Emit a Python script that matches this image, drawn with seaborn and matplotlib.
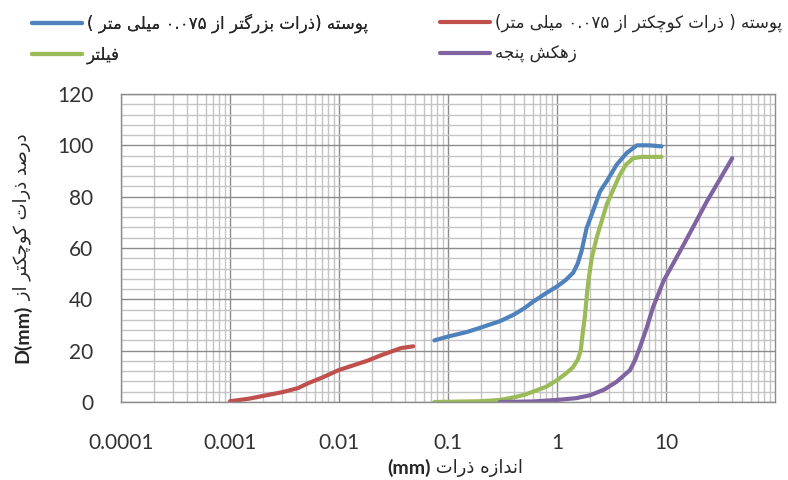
import re
import matplotlib
matplotlib.use("Agg")
import matplotlib.pyplot as plt
from matplotlib.lines import Line2D
from matplotlib.ticker import FixedLocator, MultipleLocator, LogLocator, NullFormatter
import pandas as pd
import seaborn as sns

# grain size curves (size in mm, percent passing)
shell_fine_x = [0.001, 0.0015, 0.0022, 0.003, 0.0042, 0.0052, 0.007, 0.0099,
                0.014, 0.018, 0.025, 0.037, 0.048]
shell_fine_y = [0.3, 1.3, 2.7, 3.8, 5.4, 7.3, 9.5, 12.4, 14.5, 16, 18.4, 21, 21.7]
shell_coarse_x = [0.075, 0.1, 0.15, 0.2, 0.3, 0.4, 0.5, 0.6, 0.8, 1.0, 1.2, 1.41,
                  1.55, 1.68, 1.87, 2.08, 2.48, 2.86, 3.53, 4.36, 5.4, 7.0, 9.1]
shell_coarse_y = [24, 25.5, 27.3, 29, 31.5, 34, 36.5, 39, 42.5, 45, 47.5, 50.4,
                  54, 58.8, 67.8, 73, 82, 86, 92.5, 97, 100, 100, 99.6]
filter_x = [0.075, 0.2, 0.3, 0.4, 0.5, 0.6, 0.8, 1.0, 1.2, 1.4, 1.55, 1.65,
            1.72, 1.81, 1.87, 1.94, 2.08, 2.31, 2.86, 3.3, 3.78, 4.3, 5.0, 6.0, 9.1]
filter_y = [0, 0.3, 0.8, 1.8, 2.8, 4, 6, 8.5, 11, 13.5, 16.5, 20,
            26.7, 34, 40.8, 47, 56, 64, 77, 83, 88.6, 92.5, 95, 95.5, 95.5]
toe_x = [0.3, 0.6, 1.0, 1.5, 2.0, 2.7, 3.53, 4.67, 5.2, 5.77, 6.66, 7.6, 9.5,
         14.6, 23.6, 40.5]
toe_y = [0, 0.2, 0.8, 1.5, 2.6, 4.8, 7.9, 12.4, 16.3, 21.4, 29, 36.9, 47.2,
         61.5, 78, 95]

name_fine = "پوسته ( ذرات کوچکتر از ۰.۰۷۵ میلی متر)"
name_coarse = "پوسته (ذرات بزرگتر از ۰.۰۷۵ میلی متر )"
name_filter = "فیلتر"
name_toe = "زهکش پنجه"

x_ticks = [0.0001, 0.001, 0.01, 0.1, 1, 10]
x_tick_labels = ["0.0001", "0.001", "0.01", "0.1", "1", "10"]
y_ticks = [0, 20, 40, 60, 80, 100, 120]

xlabel_fa = "اندازه ذرات"
xlabel_unit = "(mm)"
ylabel_fa = "درصد ذرات کوچکتر از"
ylabel_unit = "D(mm)"

colors = {name_fine: "#C0504D", name_coarse: "#4F81BD",
          name_filter: "#9BBB59", name_toe: "#8064A2"}

# matplotlib does no Arabic shaping, so join letters by hand
FORMS = {
    "ا": ("\uFE8D", "\uFE8E", None, None),
    "ب": ("\uFE8F", "\uFE90", "\uFE91", "\uFE92"),
    "ت": ("\uFE95", "\uFE96", "\uFE97", "\uFE98"),
    "ج": ("\uFE9D", "\uFE9E", "\uFE9F", "\uFEA0"),
    "د": ("\uFEA9", "\uFEAA", None, None),
    "ذ": ("\uFEAB", "\uFEAC", None, None),
    "ر": ("\uFEAD", "\uFEAE", None, None),
    "ز": ("\uFEAF", "\uFEB0", None, None),
    "س": ("\uFEB1", "\uFEB2", "\uFEB3", "\uFEB4"),
    "ش": ("\uFEB5", "\uFEB6", "\uFEB7", "\uFEB8"),
    "ص": ("\uFEB9", "\uFEBA", "\uFEBB", "\uFEBC"),
    "ف": ("\uFED1", "\uFED2", "\uFED3", "\uFED4"),
    "ل": ("\uFEDD", "\uFEDE", "\uFEDF", "\uFEE0"),
    "م": ("\uFEE1", "\uFEE2", "\uFEE3", "\uFEE4"),
    "ن": ("\uFEE5", "\uFEE6", "\uFEE7", "\uFEE8"),
    "ه": ("\uFEE9", "\uFEEA", "\uFEEB", "\uFEEC"),
    "و": ("\uFEED", "\uFEEE", None, None),
    "پ": ("\uFB56", "\uFB57", "\uFB58", "\uFB59"),
    "چ": ("\uFB7A", "\uFB7B", "\uFB7C", "\uFB7D"),
    "ک": ("\uFB8E", "\uFB8F", "\uFB90", "\uFB91"),
    "گ": ("\uFB92", "\uFB93", "\uFB94", "\uFB95"),
    "ی": ("\uFBFC", "\uFBFD", "\uFBFE", "\uFBFF"),
}
MIRROR = str.maketrans("()", ")(")
LTR = re.compile(r"[A-Za-z0-9۰-۹.()]*[A-Za-z0-9۰-۹][A-Za-z0-9۰-۹.()]*")


def shape(text):
    out = []
    for i, ch in enumerate(text):
        if ch not in FORMS:
            out.append(ch)
            continue
        prev = text[i - 1] if i > 0 else ""
        nxt = text[i + 1] if i + 1 < len(text) else ""
        f = FORMS[ch]
        join_prev = prev in FORMS and FORMS[prev][2] is not None
        join_next = f[2] is not None and nxt in FORMS
        if join_prev and join_next:
            out.append(f[3])
        elif join_prev:
            out.append(f[1])
        elif join_next:
            out.append(f[2])
        else:
            out.append(f[0])
    return "".join(out)


def visual(text):
    s = shape(text)
    parts, pos = [], 0
    for m in LTR.finditer(s):
        parts.append(("r", s[pos:m.start()]))
        parts.append(("l", m.group()))
        pos = m.end()
    parts.append(("r", s[pos:]))
    return "".join(seg if kind == "l" else seg[::-1].translate(MIRROR)
                   for kind, seg in reversed(parts))


sns.set_style("white")
plt.rcParams["font.family"] = ["Lato", "DejaVu Sans"]
FA = ["DejaVu Sans"]

frames = []
for name, xs, ys in [(name_fine, shell_fine_x, shell_fine_y),
                     (name_coarse, shell_coarse_x, shell_coarse_y),
                     (name_filter, filter_x, filter_y),
                     (name_toe, toe_x, toe_y)]:
    frames.append(pd.DataFrame({"size": xs, "passing": ys, "series": name}))
df = pd.concat(frames, ignore_index=True)

fig = plt.figure(figsize=(7.88, 4.80), dpi=100)
ax = fig.add_axes([121 / 788, 1 - 402 / 480, 654 / 788, 308 / 480])

sns.lineplot(data=df, x="size", y="passing", hue="series", palette=colors,
             estimator=None, sort=False, lw=3, legend=False, ax=ax,
             solid_capstyle="round", solid_joinstyle="round")

ax.set_xscale("log")
ax.set_xlim(1e-4, 100)
ax.set_ylim(0, 120)
ax.xaxis.set_major_locator(FixedLocator(x_ticks))
ax.set_xticklabels(x_tick_labels)
ax.xaxis.set_minor_locator(LogLocator(base=10, subs=range(2, 10), numticks=100))
ax.xaxis.set_minor_formatter(NullFormatter())
ax.yaxis.set_major_locator(FixedLocator(y_ticks))
ax.yaxis.set_minor_locator(MultipleLocator(4))

ax.grid(which="minor", color="#C4C4C4", lw=1)
ax.grid(which="major", color="#8C8C8C", lw=1)
ax.set_axisbelow(True)
for sp in ax.spines.values():
    sp.set_color("#8C8C8C")
    sp.set_linewidth(1)
ax.tick_params(axis="x", which="major", direction="out", length=8, width=1,
               color="#8C8C8C", labelsize=15, pad=14, labelcolor="#333333")
ax.tick_params(axis="y", which="major", length=0, labelsize=15, pad=20,
               labelcolor="#333333")
ax.tick_params(which="minor", length=0)
ax.set_xlabel("")
ax.set_ylabel("")


# legend: two columns placed by hand
def legend_col(names, x):
    handles = [Line2D([], [], color=colors[n], lw=3) for n in names]
    leg = fig.legend(handles, [visual(n) for n in names], loc="center left",
                     bbox_to_anchor=(x / 788, 1 - 38.5 / 480), frameon=False,
                     borderpad=0, borderaxespad=0, handlelength=3.0,
                     handletextpad=0.3, labelspacing=0.75,
                     prop={"family": FA, "size": 12})
    return leg


fig.add_artist(legend_col([name_coarse, name_filter], 32))
legend_col([name_fine, name_toe], 440)

# axis titles: bold latin unit next to persian words
renderer = fig.canvas.get_renderer()
xa = fig.text(0, 0, xlabel_unit, fontsize=14, fontweight="bold", va="center")
xb = fig.text(0, 0, " " + visual(xlabel_fa), fontsize=13, family=FA, va="center")
wa = xa.get_window_extent(renderer).width
wb = xb.get_window_extent(renderer).width
x0 = 455 - (wa + wb) / 2
xa.set_position((x0 / 788, 1 - 468 / 480))
xb.set_position(((x0 + wa) / 788, 1 - 468 / 480))

ya = fig.text(0, 0, ylabel_unit, fontsize=14, fontweight="bold", rotation=90,
              ha="center", va="bottom")
yb = fig.text(0, 0, " " + visual(ylabel_fa), fontsize=13, family=FA,
              rotation=90, ha="center", va="bottom")
ha_ = ya.get_window_extent(renderer).height
hb_ = yb.get_window_extent(renderer).height
y0 = 248 + (ha_ + hb_) / 2
ya.set_position((22 / 788, 1 - y0 / 480))
yb.set_position((22 / 788, 1 - (y0 - ha_) / 480))

fig.savefig("out.png", dpi=100)
